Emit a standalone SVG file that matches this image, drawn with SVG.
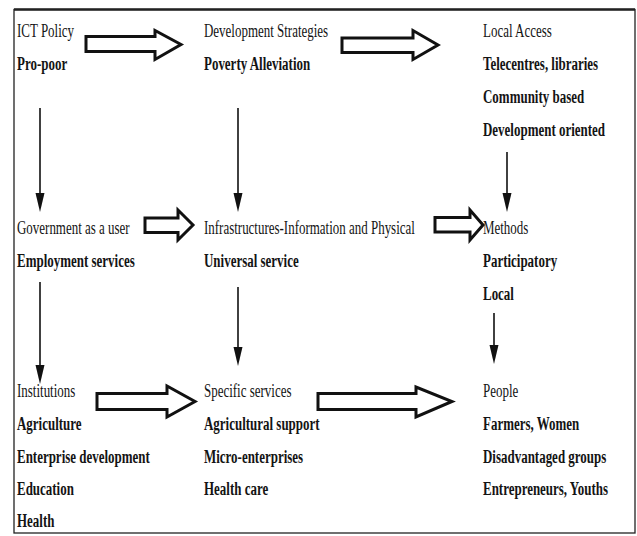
<svg xmlns="http://www.w3.org/2000/svg" width="637" height="536" viewBox="0 0 637 536">
<style>
text{font-family:"Liberation Serif","Times New Roman",serif;font-size:19.5px;fill:#141414}
.h{font-weight:normal}
.b{font-weight:bold}
.blk{fill:#fff;stroke:#111;stroke-width:3;stroke-linejoin:miter}
.ln{stroke:#111;stroke-width:1.6;fill:none}
.hd{fill:#111}
</style>
<rect x="0" y="0" width="637" height="536" fill="#fff"/>
<rect x="14" y="9.5" width="621" height="523.5" fill="none" stroke="#222" stroke-width="1.3"/>
<line x1="14" y1="9.5" x2="635" y2="9.5" stroke="#222" stroke-width="2.5"/>

<g id="connectors">
  <path class="blk" d="M86,36.5 L155,36.5 L155,30.5 L181,44.5 L155,59.5 L155,51.5 L86,51.5 Z"/>
  <path class="blk" d="M342,38 L413,38 L413,30.5 L438,45 L413,59.5 L413,52.5 L342,52.5 Z"/>
  <path class="blk" d="M145,218 L178,218 L178,210 L193,225 L178,240 L178,232.5 L145,232.5 Z"/>
  <path class="blk" d="M435,217.5 L470,217.5 L470,210 L483,225 L470,240 L470,232 L435,232 Z"/>
  <path class="blk" d="M97,393.5 L167,393.5 L167,386 L195,401.5 L167,417 L167,409.5 L97,409.5 Z"/>
  <path class="blk" d="M318,393.5 L416,393.5 L416,387 L452,401.5 L416,417 L416,409.5 L318,409.5 Z"/>

  <line class="ln" x1="40" y1="108" x2="40" y2="195"/>
  <path class="hd" d="M35.5,193 L44.5,193 L40,212 Z"/>
  <line class="ln" x1="238" y1="108" x2="238" y2="195"/>
  <path class="hd" d="M233.5,193 L242.5,193 L238,212 Z"/>
  <line class="ln" x1="507" y1="152" x2="507" y2="195"/>
  <path class="hd" d="M502.5,193 L511.5,193 L507,212 Z"/>
  <line class="ln" x1="40" y1="282" x2="40" y2="367"/>
  <path class="hd" d="M35.5,365 L44.5,365 L40,384 Z"/>
  <line class="ln" x1="238" y1="287" x2="238" y2="349"/>
  <path class="hd" d="M233.5,347 L242.5,347 L238,366 Z"/>
  <line class="ln" x1="494" y1="313" x2="494" y2="347"/>
  <path class="hd" d="M489.5,345 L498.5,345 L494,364 Z"/>
</g>

<g id="ict-policy">
  <text class="h" transform="matrix(0.665 0 0 1 17 37)">ICT Policy</text>
  <text class="b" transform="matrix(0.665 0 0 1 17 70)">Pro-poor</text>
</g>
<g id="development-strategies">
  <text class="h" transform="matrix(0.665 0 0 1 204 37)">Development Strategies</text>
  <text class="b" transform="matrix(0.665 0 0 1 204 70)">Poverty Alleviation</text>
</g>
<g id="local-access">
  <text class="h" transform="matrix(0.665 0 0 1 483 37)">Local Access</text>
  <text class="b" transform="matrix(0.665 0 0 1 483 70)">Telecentres, libraries</text>
  <text class="b" transform="matrix(0.665 0 0 1 483 103)">Community based</text>
  <text class="b" transform="matrix(0.665 0 0 1 483 136)">Development oriented</text>
</g>
<g id="government">
  <text class="h" transform="matrix(0.665 0 0 1 17 234)">Government as a user</text>
  <text class="b" transform="matrix(0.665 0 0 1 17 267)">Employment services</text>
</g>
<g id="infrastructures">
  <text class="h" transform="matrix(0.665 0 0 1 204 234)">Infrastructures-Information and Physical</text>
  <text class="b" transform="matrix(0.665 0 0 1 204 267)">Universal service</text>
</g>
<g id="methods">
  <text class="h" transform="matrix(0.665 0 0 1 483 234)">Methods</text>
  <text class="b" transform="matrix(0.665 0 0 1 483 267)">Participatory</text>
  <text class="b" transform="matrix(0.665 0 0 1 483 300)">Local</text>
</g>
<g id="institutions">
  <text class="h" transform="matrix(0.665 0 0 1 17 397)">Institutions</text>
  <text class="b" transform="matrix(0.665 0 0 1 17 430)">Agriculture</text>
  <text class="b" transform="matrix(0.665 0 0 1 17 463)">Enterprise development</text>
  <text class="b" transform="matrix(0.665 0 0 1 17 495)">Education</text>
  <text class="b" transform="matrix(0.665 0 0 1 17 527)">Health</text>
</g>
<g id="specific-services">
  <text class="h" transform="matrix(0.665 0 0 1 204 397)">Specific services</text>
  <text class="b" transform="matrix(0.665 0 0 1 204 430)">Agricultural support</text>
  <text class="b" transform="matrix(0.665 0 0 1 204 463)">Micro-enterprises</text>
  <text class="b" transform="matrix(0.665 0 0 1 204 495)">Health care</text>
</g>
<g id="people">
  <text class="h" transform="matrix(0.665 0 0 1 483 397)">People</text>
  <text class="b" transform="matrix(0.665 0 0 1 483 430)">Farmers, Women</text>
  <text class="b" transform="matrix(0.665 0 0 1 483 463)">Disadvantaged groups</text>
  <text class="b" transform="matrix(0.665 0 0 1 483 495)">Entrepreneurs, Youths</text>
</g>
</svg>
